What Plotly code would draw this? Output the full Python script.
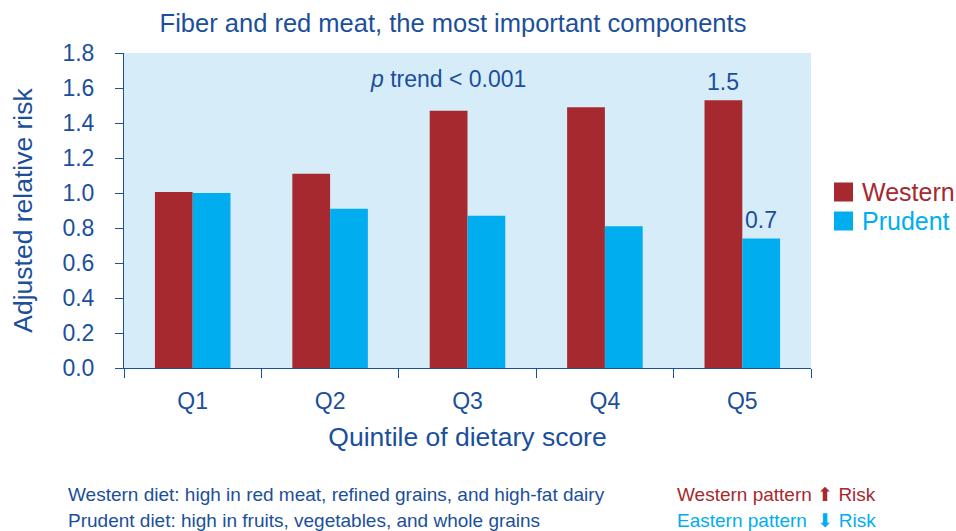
import plotly.graph_objects as go

categories = ["Q1", "Q2", "Q3", "Q4", "Q5"]
western = [1.006, 1.11, 1.47, 1.49, 1.53]
prudent = [1.0, 0.91, 0.87, 0.81, 0.74]
y_ticks = [0.0, 0.2, 0.4, 0.6, 0.8, 1.0, 1.2, 1.4, 1.6, 1.8]
series_names = ["Western", "Prudent"]

RED = "#A6292F"
CYAN = "#00AEEF"
NAVY = "#1B4F9C"
FONT = "Liberation Sans, Arial, sans-serif"

# plot-area geometry in pixels (for placing paper-referenced notes)
L, R, T, B = 124, 811, 53, 368
W, H = 956, 531

def px_x(x):
    return (x - L) / (R - L)

def px_y(y):
    return (B - y) / (B - T)

fig = go.Figure()
fig.add_trace(go.Bar(x=categories, y=western, marker_color=RED, marker_line_width=0,
                     name=series_names[0], showlegend=False))
fig.add_trace(go.Bar(x=categories, y=prudent, marker_color=CYAN, marker_line_width=0,
                     name=series_names[1], showlegend=False))

fig.update_layout(
    width=W, height=H,
    margin=dict(l=L, r=W - R, t=T, b=H - B, autoexpand=False),
    paper_bgcolor="white", plot_bgcolor="#D6ECF9",
    font=dict(family=FONT, color=NAVY, size=23),
    barmode="group", bargap=0.45, bargroupgap=0,
    title=dict(text="Fiber and red meat, the most important components",
               x=px_x(453), xref="paper", y=1 - 23 / H, yref="container",
               xanchor="center", yanchor="middle",
               font=dict(size=25.5, color=NAVY)),
    showlegend=False,
)
fig.update_yaxes(range=[0, 1.8], tickvals=y_ticks, tickformat=".1f", automargin=False,
                 showgrid=False, zeroline=False, showline=True, linecolor=NAVY, linewidth=1,
                 ticks="outside", ticklen=8, tickcolor=NAVY, ticklabelstandoff=16,
                 tickfont=dict(size=23),
                 title=dict(text="Adjusted relative risk", font=dict(size=26.5), standoff=22))
fig.update_xaxes(showgrid=False, showline=True, linecolor=NAVY, linewidth=1, automargin=False,
                 ticks="outside", ticklen=9, tickcolor=NAVY, tickson="boundaries",
                 ticklabelstandoff=12, tickfont=dict(size=23),
                 title=dict(text="Quintile of dietary score", font=dict(size=26.5), standoff=14))

fig.add_annotation(x=2, y=1.65, xref="x", yref="y", text="<i>p</i> trend < 0.001",
                   showarrow=False, font=dict(size=23, color=NAVY), xshift=-20)
fig.add_annotation(x=4, y=western[4], xref="x", yref="y", text="1.5", showarrow=False,
                   xshift=-19, yshift=18, font=dict(size=23, color=NAVY))
fig.add_annotation(x=4, y=prudent[4], xref="x", yref="y", text="0.7", showarrow=False,
                   xshift=19, yshift=19, font=dict(size=23, color=NAVY))

# legend drawn as squares + coloured labels
for name, col, cy in [(series_names[0], RED, 192), (series_names[1], CYAN, 221)]:
    fig.add_shape(type="rect", xref="paper", yref="paper",
                  x0=px_x(834), x1=px_x(853), y0=px_y(cy + 9.5), y1=px_y(cy - 9.5),
                  fillcolor=col, line_width=0)
    fig.add_annotation(x=px_x(860), y=px_y(cy), xref="paper", yref="paper", text=name,
                       showarrow=False, xanchor="left", yanchor="middle",
                       font=dict(size=25, color=col))

notes = [
    ("Western diet: high in red meat, refined grains, and high-fat dairy", 495, NAVY, 66),
    ("Prudent diet: high in fruits, vegetables, and whole grains", 520, NAVY, 66),
    ("Western pattern \u2B06 Risk", 495, RED, 675),
    ("Eastern pattern  \u2B07 Risk", 520, CYAN, 675),
]
for txt, ypx, col, xpx in notes:
    fig.add_annotation(x=px_x(xpx), y=px_y(ypx), xref="paper", yref="paper", text=txt,
                       showarrow=False, xanchor="left", yanchor="middle",
                       font=dict(size=19, color=col))

fig.write_html("out.html", config={"displayModeBar": False},
               post_script="document.body.style.margin='0px';document.body.style.overflow='hidden';")
